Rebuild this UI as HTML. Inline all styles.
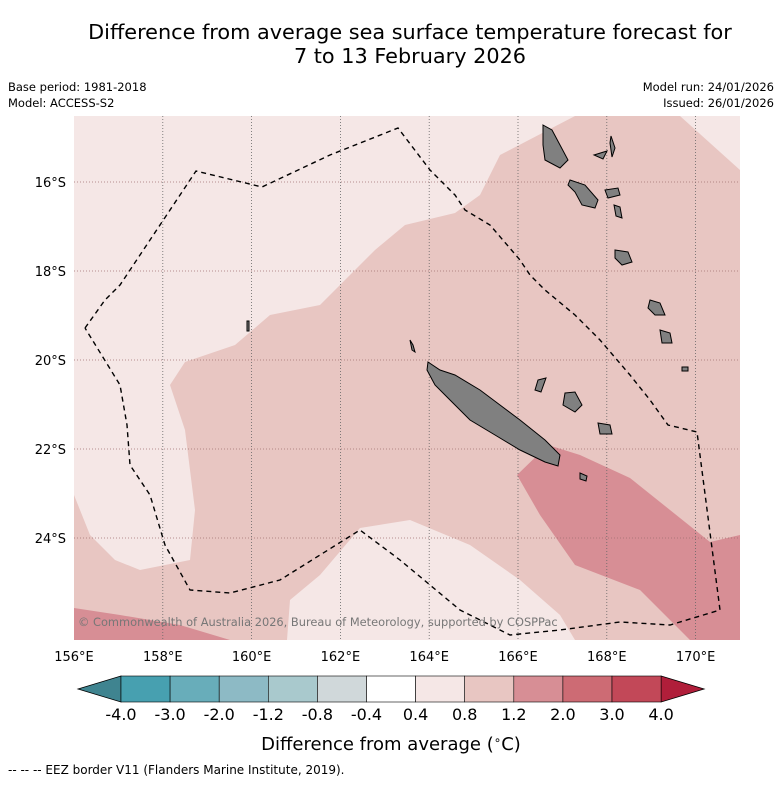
<!DOCTYPE html>
<html><head><meta charset="utf-8"><style>
body{margin:0;background:#fff;font-family:"Liberation Sans","DejaVu Sans",sans-serif}
</style></head><body>
<svg id="s" width="781" height="781" xmlns="http://www.w3.org/2000/svg" style="font-family:'DejaVu Sans','Liberation Sans',sans-serif">
<text x="410" y="39" text-anchor="middle" font-size="20.8">Difference from average sea surface temperature forecast for</text>
<text x="410" y="63" text-anchor="middle" font-size="20.8">7 to 13 February 2026</text>
<text x="8" y="91" font-size="11.5">Base period: 1981-2018</text>
<text x="8" y="107" font-size="11.5">Model: ACCESS-S2</text>
<text x="774" y="91" font-size="11.5" text-anchor="end">Model run: 24/01/2026</text>
<text x="774" y="107" font-size="11.5" text-anchor="end">Issued: 26/01/2026</text>
<defs><clipPath id="mc"><rect x="74" y="116" width="666" height="524"/></clipPath></defs>
<g id="map" clip-path="url(#mc)"></g>
<text x="78" y="626" font-size="11.4" fill="#777">© Commonwealth of Australia 2026, Bureau of Meteorology, supported by COSPPac</text>
<g id="axes"></g>
<g id="cb"></g>
<text x="391" y="750" text-anchor="middle" font-size="18">Difference from average (<tspan font-size="12" dy="-6">∘</tspan><tspan dy="6">C)</tspan></text>
<text x="8" y="774" font-size="12">-- -- -- EEZ border V11 (Flanders Marine Institute, 2019).</text>
</svg>
<script>
const lonTicks=[156,158,160,162,164,166,168,170];
const latTicks=[16,18,20,22,24];
const cbLevels=["-4.0","-3.0","-2.0","-1.2","-0.8","-0.4","0.4","0.8","1.2","2.0","3.0","4.0"];
const cbColors=["#47a0b0","#68adba","#8dbac5","#a9c9cd","#d0d8da","#ffffff","#f5e7e6","#e8c6c2","#d78e95","#cd6b74","#c24858"];
const cbUnder="#3f8490", cbOver="#b01e3a";
const NS="http://www.w3.org/2000/svg";
const xLon=l=>74+(l-156)*44.4;
const yLat=l=>182+(l-16)*44.5;
function mk(t,a,p){const e=document.createElementNS(NS,t);for(const k in a)e.setAttribute(k,a[k]);(p||document.getElementById('s')).appendChild(e);return e;}
const map=document.getElementById('map');
const pts=a=>a.map(p=>p.join(',')).join(' ');
let e=mk('rect',{x:74,y:116,width:666,height:524,fill:cbColors[6]},map);

const medium=[[575,116],[680,116],[740,170],[740,640],[575,640],[560,615],[520,580],[470,545],[410,520],[360,528],[320,575],[290,600],[287,640],[74,640],[74,495],[90,535],[115,560],[140,570],[190,560],[195,510],[185,430],[170,385],[185,362],[235,345],[270,315],[320,305],[375,250],[405,225],[455,213],[480,195],[500,155]];
e=mk('polygon',{points:pts(medium),fill:cbColors[7]},map);

const dark1=[[517,475],[540,515],[575,565],[640,590],[690,640],[740,640],[740,535],[710,542],[670,510],[630,478],[580,455],[548,445]];
const dark2=[[74,608],[120,615],[180,625],[230,640],[74,640]];
[dark1,dark2].forEach(d=>{const q=mk('polygon',{points:pts(d),fill:cbColors[8]},map);
});
lonTicks.slice(1).forEach(l=>{const g=mk('line',{x1:xLon(l),x2:xLon(l),y1:116,y2:640,stroke:'#666','stroke-width':0.8,'stroke-dasharray':'1,2'},map);
});
latTicks.forEach(l=>{const g=mk('line',{x1:74,x2:740,y1:yLat(l),y2:yLat(l),stroke:'#a07070','stroke-width':0.8,'stroke-dasharray':'1,2'},map);
});
const islands=[
[[428,362],[440,370],[455,375],[480,390],[500,405],[520,420],[545,440],[560,455],[558,466],[545,462],[520,450],[495,435],[470,420],[450,400],[435,385],[427,370]],
[[543,125],[552,130],[560,145],[568,160],[560,168],[545,160],[543,145]],
[[570,180],[585,185],[598,200],[595,208],[582,205],[575,192],[568,185]],
[[605,190],[618,188],[620,195],[608,198]],[[594,155],[607,151],[603,159]],
[[611,136],[615,148],[612,157],[610,143]],[[615,250],[628,252],[632,262],[622,265],[615,258]],
[[650,300],[660,303],[665,315],[655,315],[648,308]],[[660,330],[670,333],[672,343],[662,343]],
[[565,393],[575,392],[582,405],[575,412],[563,405]],[[598,423],[610,425],[612,434],[600,434]],
[[580,473],[587,476],[586,481],[580,479]],[[682,367],[688,367],[688,371],[682,371]],
[[538,380],[546,378],[541,392],[535,390]],[[247,321],[249,321],[249,331],[247,331]],
[[410,340],[413,345],[415,352],[412,350]],[[614,205],[620,207],[622,218],[616,216]]];
islands.forEach(p=>{const q=mk('polygon',{points:pts(p),fill:'#808080',stroke:'#000','stroke-width':1},map);
});
const eez=[[85,328],[105,300],[120,285],[150,240],[196,171],[262,187],[330,155],[398,128],[430,170],[455,195],[465,210],[490,225],[520,260],[530,275],[545,290],[575,315],[600,340],[630,375],[650,400],[668,425],[697,432],[720,610],[670,625],[620,622],[560,630],[510,635],[460,610],[430,585],[400,560],[360,530],[320,555],[280,580],[230,593],[190,590],[165,545],[150,495],[130,465],[127,425],[120,385],[85,328]];
e=mk('polyline',{points:pts(eez),fill:'none',stroke:'#000','stroke-width':1.4,'stroke-dasharray':'5,4'},map);

const ax=document.getElementById('axes');
lonTicks.forEach(l=>{const t=mk('text',{x:xLon(l),y:661,'text-anchor':'middle','font-size':13},ax);t.textContent=l+'°E';
});
latTicks.forEach(l=>{const t=mk('text',{x:66,y:yLat(l)+5,'text-anchor':'end','font-size':13},ax);t.textContent=l+'°S';
});
const cb=document.getElementById('cb');
const x0=121,bw=49.1,y0=676,bh=26;
e=mk('polygon',{points:`${x0},${y0} 78,${y0+bh/2} ${x0},${y0+bh}`,fill:cbUnder,stroke:'#000','stroke-width':0.8},cb);

const xe=x0+bw*cbColors.length;
e=mk('polygon',{points:`${xe},${y0} ${xe+43},${y0+bh/2} ${xe},${y0+bh}`,fill:cbOver,stroke:'#000','stroke-width':0.8},cb);

cbColors.forEach((c,i)=>{const r=mk('rect',{x:x0+i*bw,y:y0,width:bw,height:bh,fill:c,stroke:'#000','stroke-width':0.6},cb);
});
cbLevels.forEach((l,i)=>{const t=mk('text',{x:x0+i*bw,y:720,'text-anchor':'middle','font-size':16},cb);t.textContent=l;
});
</script>
</body></html>
